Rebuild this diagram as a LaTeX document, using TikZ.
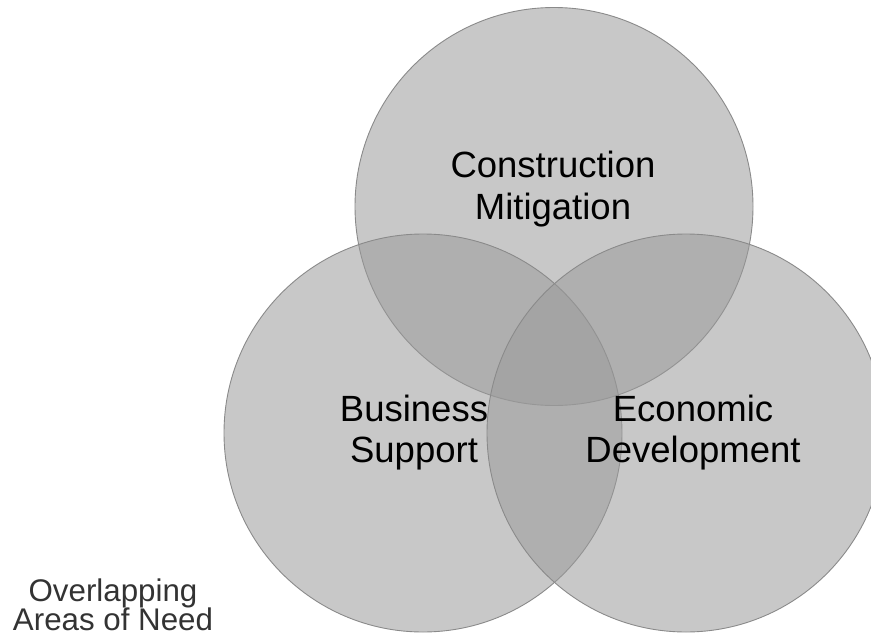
\documentclass[tikz,border=0pt]{standalone}
\usepackage{fontspec}
\setmainfont{Liberation Sans}
\definecolor{circfill}{HTML}{9A9A9A}
\definecolor{circline}{HTML}{8A8A8A}
\definecolor{notegray}{HTML}{333333}
\tikzset{
  venn/.style={circle, minimum size=398pt, inner sep=0pt, fill=circfill, fill opacity=0.54, draw=circline, draw opacity=1, line width=0.9pt},
  biglabel/.style={anchor=base, inner sep=0pt, text=black, font=\fontsize{36.5}{42}\selectfont},
  notelabel/.style={anchor=base, inner sep=0pt, text=notegray, font=\fontsize{31.3}{29}\selectfont}
}
\begin{document}
\begin{tikzpicture}[x=1pt,y=-1pt]
\useasboundingbox (0,0) rectangle (871,637);
\clip (0,0) rectangle (871,637);
\node[venn] (cm) at (554,206.5) {};
\node[venn] (bs) at (423,433) {};
\node[venn] (ed) at (686,433) {};
\node[biglabel] (cm1) at (553,177) {Construction};
\node[biglabel] (cm2) at (553,219) {Mitigation};
\node[biglabel] (bs1) at (414,421) {Business};
\node[biglabel] (bs2) at (414,462) {Support};
\node[biglabel] (ed1) at (693,421) {Economic};
\node[biglabel] (ed2) at (693,462) {Development};
\node[notelabel] (ov1) at (113,601.5) {Overlapping};
\node[notelabel] (ov2) at (113,630.5) {Areas of Need};
\end{tikzpicture}
\end{document}
